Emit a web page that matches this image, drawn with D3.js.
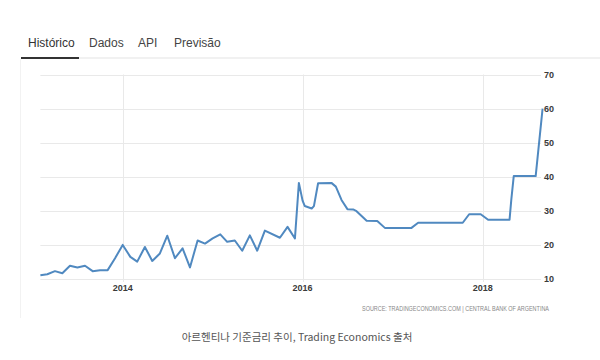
<!DOCTYPE html>
<html>
<head>
<meta charset="utf-8">
<script src="https://cdn.jsdelivr.net/npm/d3@7"></script>
<style>
  body { margin: 0; background: #fff; }
  svg { display: block; }
</style>
</head>
<body>
<svg id="chart" width="600" height="360"></svg>
<script>
'use strict'

// Argentina policy rate
var dates = [
  '2013-02-01', '2013-03-01', '2013-04-01', '2013-05-01', '2013-06-01', '2013-07-01',
  '2013-08-01', '2013-09-01', '2013-10-01', '2013-11-01', '2013-12-01',
  '2014-01-01', '2014-02-01', '2014-03-01', '2014-04-01', '2014-05-01', '2014-06-01',
  '2014-07-01', '2014-08-01', '2014-09-01', '2014-10-01', '2014-11-01', '2014-12-01',
  '2015-01-01', '2015-02-01', '2015-03-01', '2015-04-01', '2015-05-01', '2015-06-01',
  '2015-07-01', '2015-08-01', '2015-10-01', '2015-11-01', '2015-12-01', '2015-12-17',
  '2016-01-01', '2016-01-10', '2016-02-07', '2016-02-16', '2016-03-04', '2016-04-27',
  '2016-05-15', '2016-06-07', '2016-07-01', '2016-07-24', '2016-08-07', '2016-09-17',
  '2016-10-30', '2016-11-30', '2017-03-18', '2017-04-14', '2017-10-12', '2017-11-07',
  '2017-12-24', '2018-01-23', '2018-04-20', '2018-04-27', '2018-05-07', '2018-08-04',
  '2018-09-01'
]
var rates = [
  11.1, 11.4, 12.3, 11.7, 13.9, 13.4,
  13.9, 12.3, 12.6, 12.6, 16.1,
  20.0, 16.5, 15.1, 19.4, 15.3, 17.5,
  22.7, 16.1, 19.0, 13.4, 21.3, 20.4,
  21.9, 23.1, 20.9, 21.3, 18.3, 22.8,
  18.3, 24.2, 22.1, 25.3, 21.9, 38.2,
  33.0, 31.4, 30.7, 31.4, 38.1, 38.2,
  37.1, 33.2, 30.5, 30.4, 29.9, 27.1,
  27.0, 25.0, 25.0, 26.5, 26.5, 29.0,
  29.0, 27.4, 27.4, 33.2, 40.2, 40.2,
  60.0
]
var yTicks = [10, 20, 30, 40, 50, 60, 70]
var xTicks = ['2014-01-01', '2016-01-01', '2018-01-01']
var tabs = ['Histórico', 'Dados', 'API', 'Previsão']
var source = 'SOURCE: TRADINGECONOMICS.COM | CENTRAL BANK OF ARGENTINA'
var caption = '아르헨티나 기준금리 추이, Trading Economics 출처'

var parse = d3.timeParse('%Y-%m-%d')
var data = dates.map((d, i) => ({ date: parse(d), value: rates[i] }))
var tickDates = xTicks.map(parse)

var svg = d3.select('#chart')

// tabs header
var tabX = [28, 89, 138, 174]
svg.append('g')
  .selectAll('text')
  .data(tabs)
  .enter().append('text')
    .attr('x', (d, i) => tabX[i])
    .attr('y', 47)
    .attr('font-family', 'Liberation Sans, Arial, sans-serif')
    .attr('font-size', 12)
    .attr('fill', (d, i) => i === 0 ? '#333' : '#444')
    .text((d) => d)

svg.append('line')
  .attr('x1', 21).attr('x2', 600)
  .attr('y1', 58).attr('y2', 58)
  .attr('stroke', '#ececec')
  .attr('stroke-width', 1.5)
svg.append('line')
  .attr('x1', 21).attr('x2', 79)
  .attr('y1', 58).attr('y2', 58)
  .attr('stroke', '#333')
  .attr('stroke-width', 2)

// faint panel border
svg.append('line')
  .attr('x1', 20.5).attr('x2', 20.5)
  .attr('y1', 59).attr('y2', 318)
  .attr('stroke', '#f2f2f2')

// scales: 2014 -> 122.7px, 2018 -> 482.7px
var x = d3.scaleTime()
  .domain([parse('2014-01-01'), parse('2018-01-01')])
  .range([122.7, 482.7])
var y = d3.scaleLinear()
  .domain([10, 70])
  .range([279, 74.5])

var left = x(data[0].date)
var right = 541

// grid
svg.append('g')
  .selectAll('line')
  .data(yTicks)
  .enter().append('line')
    .attr('x1', left).attr('x2', right)
    .attr('y1', (d) => Math.round(y(d)) + 0.5)
    .attr('y2', (d) => Math.round(y(d)) + 0.5)
    .attr('stroke', '#e9e9e9')

svg.append('g')
  .selectAll('line')
  .data(tickDates)
  .enter().append('line')
    .attr('x1', (d) => Math.round(x(d)) + 0.5)
    .attr('x2', (d) => Math.round(x(d)) + 0.5)
    .attr('y1', y(70))
    .attr('y2', 282)
    .attr('stroke', '#e9e9e9')

// axis labels
svg.append('g')
  .selectAll('text')
  .data(yTicks)
  .enter().append('text')
    .attr('x', 544)
    .attr('y', (d) => y(d) + 3)
    .attr('font-family', 'Liberation Sans, Arial, sans-serif')
    .attr('font-size', 9)
    .attr('font-weight', 'bold')
    .attr('fill', '#3a3a3a')
    .text((d) => d)

svg.append('g')
  .selectAll('text')
  .data(tickDates)
  .enter().append('text')
    .attr('x', (d) => x(d))
    .attr('y', 291)
    .attr('text-anchor', 'middle')
    .attr('font-family', 'Liberation Sans, Arial, sans-serif')
    .attr('font-size', 9)
    .attr('font-weight', 'bold')
    .attr('fill', '#3a3a3a')
    .text(d3.timeFormat('%Y'))

// the series
var line = d3.line()
  .x((d) => x(d.date))
  .y((d) => y(d.value))

svg.append('path')
  .datum(data)
  .attr('d', line)
  .attr('fill', 'none')
  .attr('stroke', '#5089c0')
  .attr('stroke-width', 2)
  .attr('stroke-linejoin', 'round')

svg.append('text')
  .attr('x', 549)
  .attr('y', 311)
  .attr('text-anchor', 'end')
  .attr('font-family', 'Liberation Sans Narrow, Liberation Sans, sans-serif')
  .attr('font-size', 6.8)
  .attr('textLength', 187)
  .attr('lengthAdjust', 'spacingAndGlyphs')
  .attr('fill', '#888')
  .text(source)

svg.append('text')
  .attr('x', 297)
  .attr('y', 341)
  .attr('text-anchor', 'middle')
  .attr('font-family', 'Noto Sans CJK KR, Noto Sans, sans-serif')
  .attr('font-size', 10.5)
  .attr('fill', '#555')
  .text(caption)
</script>
</body>
</html>
